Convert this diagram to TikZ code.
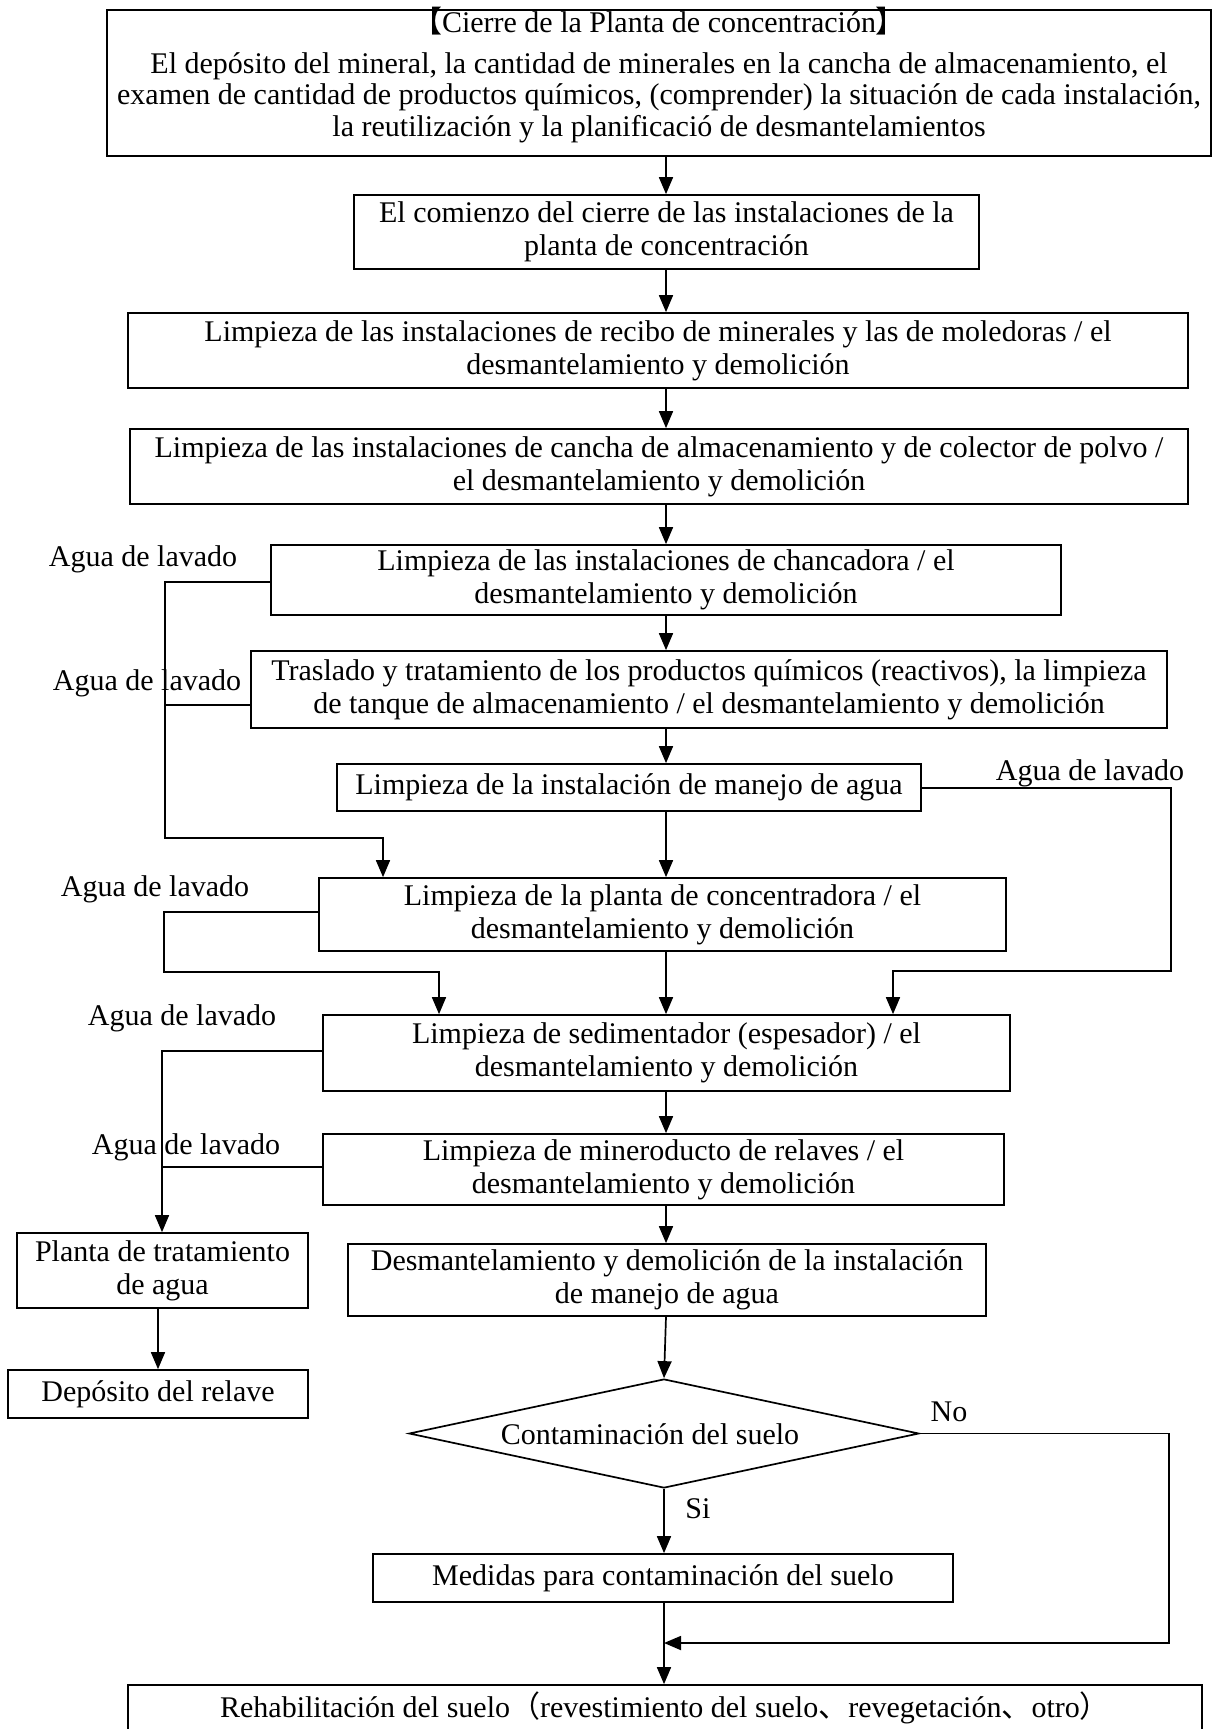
\documentclass[tikz,border=0pt]{standalone}
\usepackage{fontspec}
\setmainfont{Liberation Serif}
\newfontfamily\cjk{Noto Sans CJK SC}
\usetikzlibrary{arrows.meta,shapes.geometric}
\newcommand\fsz{\fontsize{30}{33}\selectfont}
\begin{document}
\begin{tikzpicture}[x=1pt,y=-1pt,
  box/.style={draw, line width=1.7pt, inner sep=0pt, align=center, font=\fsz},
  decision/.style={draw, diamond, line width=1.7pt, inner sep=0pt, aspect=4.68},
  lbl/.style={inner sep=0pt, font=\fsz, align=center},
  ln/.style={line width=1.7pt},
  arr/.style={line width=1.7pt, -{Triangle[length=17pt,width=14pt]}}]
\useasboundingbox (0,0) rectangle (1221,1729);

% main column
\node[box, minimum width=1104, minimum height=146] (b1) at (659,83) {};
\node[lbl, font=\fontsize{30}{31.5}\selectfont] (b1t) at (659,75)
  {{\cjk 【}Cierre de la Planta de concentración{\cjk 】}\\[9pt]
   El depósito del mineral, la cantidad de minerales en la cancha de almacenamiento, el\\
   examen de cantidad de productos químicos, (comprender) la situación de cada instalación,\\
   la reutilización y la planificació de desmantelamientos};
\node[box, minimum width=625, minimum height=74] (b2) at (666.5,232)
  {El comienzo del cierre de las instalaciones de la\\planta de concentración};
\node[box, minimum width=1060, minimum height=75] (b3) at (658,350.5)
  {Limpieza de las instalaciones de recibo de minerales y las de moledoras / el\\desmantelamiento y demolición};
\node[box, minimum width=1058, minimum height=75] (b4) at (659,466.5)
  {Limpieza de las instalaciones de cancha de almacenamiento y de colector de polvo /\\el desmantelamiento y demolición};
\node[box, minimum width=790, minimum height=70] (b5) at (666,580)
  {Limpieza de las instalaciones de chancadora / el\\desmantelamiento y demolición};
\node[box, minimum width=916, minimum height=77] (b6) at (709,689.5)
  {Traslado y tratamiento de los productos químicos (reactivos), la limpieza\\de tanque de almacenamiento / el desmantelamiento y demolición};
\node[box, minimum width=584, minimum height=47] (b7) at (629,787.5)
  {Limpieza de la instalación de manejo de agua};
\node[box, minimum width=687, minimum height=73] (b8) at (662.5,914.5)
  {Limpieza de la planta de concentradora / el\\desmantelamiento y demolición};
\node[box, minimum width=687, minimum height=76] (b9) at (666.5,1053)
  {Limpieza de sedimentador (espesador) / el\\desmantelamiento y demolición};
\node[box, minimum width=681, minimum height=71] (b10) at (663.5,1169.5)
  {Limpieza de mineroducto de relaves / el\\desmantelamiento y demolición};
\node[box, minimum width=638, minimum height=72] (b11) at (667,1280)
  {Desmantelamiento y demolición de la instalación\\de manejo de agua};
\node[decision, minimum width=510, minimum height=109] (dia) at (664,1433.5) {};
\node[lbl] (diat) at (650,1434) {Contaminación del suelo};
\node[box, minimum width=580, minimum height=48] (b12) at (663,1578)
  {Medidas para contaminación del suelo};
\node[box, minimum width=1074, minimum height=46] (b13) at (665,1708)
  {Rehabilitación del suelo{\cjk （}revestimiento del suelo{\cjk 、}revegetación{\cjk 、}otro{\cjk ）}};

% water treatment branch
\node[box, minimum width=291, minimum height=75] (l1) at (162.5,1270.5)
  {Planta de tratamiento\\de agua};
\node[box, minimum width=300, minimum height=48] (l2) at (158,1394)
  {Depósito del relave};

% labels
\node[lbl] (lA1) at (143,559) {Agua de lavado};
\node[lbl] (lA2) at (147,683) {Agua de lavado};
\node[lbl] (lB) at (1090,773) {Agua de lavado};
\node[lbl] (lC) at (155,889) {Agua de lavado};
\node[lbl] (lD1) at (182,1018) {Agua de lavado};
\node[lbl] (lD2) at (186,1147) {Agua de lavado};
\node[lbl] (si) at (698,1509) {Si};
\node[lbl] (no) at (949,1412) {No};

% main flow
\coordinate (ax) at (666,0);
\draw[arr] (b1.south -| ax) -- (b2.north -| ax);
\draw[arr] (b2.south -| ax) -- (b3.north -| ax);
\draw[arr] (b3.south -| ax) -- (b4.north -| ax);
\draw[arr] (b4.south -| ax) -- (b5.north -| ax);
\draw[arr] (b5.south -| ax) -- (b6.north -| ax);
\draw[arr] (b6.south -| ax) -- (b7.north -| ax);
\draw[arr] (b7.south -| ax) -- (b8.north -| ax);
\draw[arr] (b8.south -| ax) -- (b9.north -| ax);
\draw[arr] (b9.south -| ax) -- (b10.north -| ax);
\draw[arr] (b10.south -| ax) -- (b11.north -| ax);
\draw[arr] (b11.south -| ax) -- (dia.north);
\draw[arr] (dia.south) -- (b12.north -| dia.south);
\draw[arr] (b12.south -| dia.south) -- (b13.north -| dia.south);

% "No" return
\coordinate (nR1) at (1169,1433.5);
\coordinate (nR2) at (1169,1643);
\draw[arr] (dia.east) -- (nR1) -- (nR2) -- (nR2 -| dia.south);

% wash water from crusher and reagent areas
\coordinate (wA1) at (165,582);
\coordinate (wA2) at (165,705);
\coordinate (wA3) at (165,838);
\coordinate (wA4) at (383,838);
\draw[arr] (b5.west |- wA1) -- (wA1) -- (wA3) -- (wA4) -- (b8.north -| wA4);
\draw[ln] (b6.west |- wA2) -- (wA2);

% wash water from water handling facility
\coordinate (wB1) at (1171,788);
\coordinate (wB2) at (1171,971);
\coordinate (wB3) at (893,971);
\draw[arr] (b7.east |- wB1) -- (wB1) -- (wB2) -- (wB3) -- (b9.north -| wB3);

% wash water from concentrator plant
\coordinate (wC1) at (164,912);
\coordinate (wC2) at (164,972);
\coordinate (wC3) at (439,972);
\draw[arr] (b8.west |- wC1) -- (wC1) -- (wC2) -- (wC3) -- (b9.north -| wC3);

% wash water to treatment plant
\coordinate (wD1) at (162,1051);
\coordinate (wD2) at (162,1167);
\draw[arr] (b9.west |- wD1) -- (wD1) -- (l1.north -| wD1);
\draw[ln] (b10.west |- wD2) -- (wD2);
\draw[arr] (l1.south -| l2.north) -- (l2.north);
\end{tikzpicture}
\end{document}
